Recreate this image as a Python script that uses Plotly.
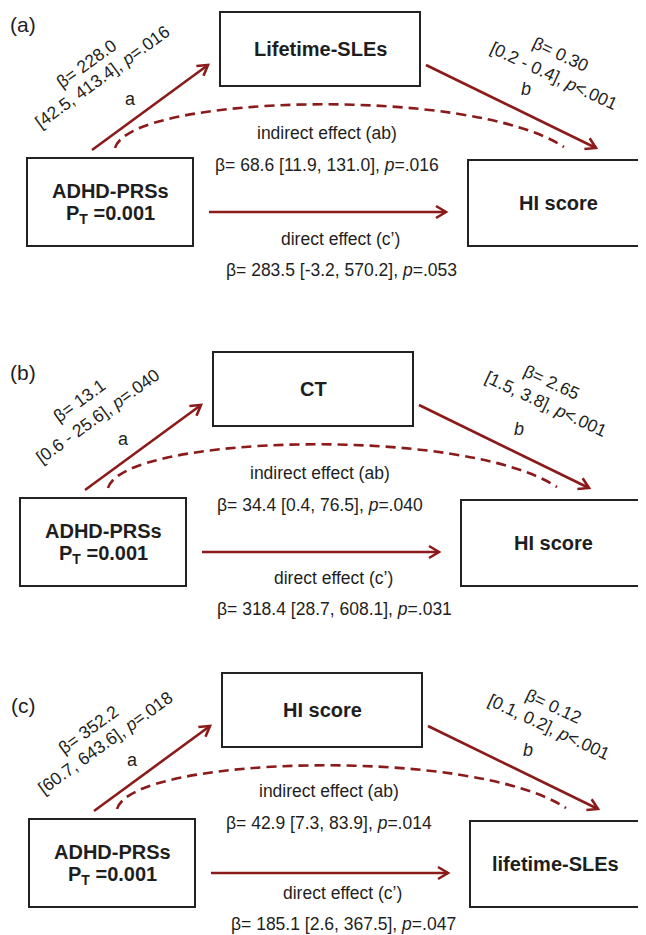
import math
import plotly.graph_objects as go

# ---------------- data (text content of the three mediation models) ----------------
panel_labels = ["(a)", "(b)", "(c)"]
exposure_name = ["ADHD-PRSs", "ADHD-PRSs", "ADHD-PRSs"]
exposure_pt = ["0.001", "0.001", "0.001"]
mediators = ["Lifetime-SLEs", "CT", "HI score"]
outcomes = ["HI score", "HI score", "lifetime-SLEs"]

a_beta = ["228.0", "13.1", "352.2"]
a_ci = ["[42.5, 413.4]", "[0.6 - 25.6]", "[60.7, 643.6]"]
a_p = ["=.016", "=.040", "=.018"]

b_beta = ["0.30", "2.65", "0.12"]
b_ci = ["[0.2 - 0.4]", "[1.5, 3.8]", "[0.1, 0.2]"]
b_p = ["&lt;.001", "&lt;.001", "&lt;.001"]

ind_beta = ["68.6", "34.4", "42.9"]
ind_ci = ["[11.9, 131.0]", "[0.4, 76.5]", "[7.3, 83.9]"]
ind_p = ["=.016", "=.040", "=.014"]

dir_beta = ["283.5", "318.4", "185.1"]
dir_ci = ["[-3.2, 570.2]", "[28.7, 608.1]", "[2.6, 367.5]"]
dir_p = ["=.053", "=.031", "=.047"]

# ---------------- layout geometry (page pixel space) ----------------
PAGE_W, PAGE_H = 646, 935
BODY_MARGIN = 8           # default page margin around the plot div
W, H = PAGE_W - BODY_MARGIN, PAGE_H - BODY_MARGIN
DX = [0, -7, 2]
DY = [0, 340, 661]
DY_IND = [0, 340, 658]
DY_DIR = [0, 339, 654]
LABEL_Y = [24, 372, 705]
RIGHT_X1 = [652, 650, 645]
A1_POS = [(86, 64), (79, 401), (88, 730)]
A2_POS = [(102, 77), (98, 416), (105, 743)]
B1_POS = [(560, 54), (551, 382), (553, 706)]
B2_POS = [(554, 76), (546, 404), (549, 727)]

RED = "#8b1a1a"
TXT = "#1e1e1e"
FONT = "Liberation Sans, Arial, sans-serif"

shapes = []
annotations = []


def box(x0, y0, x1, y1):
    shapes.append(dict(type="rect", xref="x", yref="y", x0=x0, y0=y0, x1=x1, y1=y1,
                       line=dict(color="#222222", width=2), fillcolor="rgba(0,0,0,0)"))


def arrow(x0, y0, x1, y1, width=2.6, back=10, half=6):
    shapes.append(dict(type="line", xref="x", yref="y", x0=x0, y0=y0, x1=x1, y1=y1,
                       line=dict(color=RED, width=width)))
    L = math.hypot(x1 - x0, y1 - y0)
    ux, uy = (x1 - x0) / L, (y1 - y0) / L
    nx, ny = -uy, ux
    bx, by = x1 - back * ux, y1 - back * uy
    p1 = (bx + half * nx, by + half * ny)
    p2 = (bx - half * nx, by - half * ny)
    shapes.append(dict(type="path", xref="x", yref="y",
                       path=f"M {p1[0]:.2f},{p1[1]:.2f} L {x1:.2f},{y1:.2f} L {p2[0]:.2f},{p2[1]:.2f}",
                       line=dict(color=RED, width=width), fillcolor="rgba(0,0,0,0)"))


def text(x, y, s, size=17.5, angle=0, bold=False, color=TXT):
    if bold:
        s = f"<b>{s}</b>"
    annotations.append(dict(x=x, y=y, xref="x", yref="y", text=s, showarrow=False,
                            xanchor="center", yanchor="middle", textangle=angle,
                            font=dict(family=FONT, size=size, color=color)))


for i in range(3):
    dx, dy = DX[i], DY[i]
    # panel label
    text(23, LABEL_Y[i], panel_labels[i], size=21)

    # boxes
    box(27 + dx, 158 + dy, 193 + dx, 246 + dy)
    box(220 + dx, 12 + dy, 420 + dx, 86 + dy)
    box(468 + dx, 160 + dy, RIGHT_X1[i], 246 + dy)

    # box labels
    text(110 + dx, 191 + dy, exposure_name[i], size=20, bold=True)
    text(110 + dx, 214 + dy, f"P<sub>T</sub> =" + exposure_pt[i], size=20, bold=True)
    text(320 + dx, 49 + dy, mediators[i], size=20, bold=True)
    text((468 + dx + min(RIGHT_X1[i], 652)) / 2 - 2, 203 + dy, outcomes[i], size=20, bold=True)

    # arrows
    arrow(92 + dx, 150 + dy, 208 + dx, 65 + dy)        # a path
    arrow(426 + dx, 65 + dy, 596 + dx, 148 + dy)       # b path
    arrow(209 + dx, 212 + dy, 446 + dx, 212 + dy)      # direct path

    # dashed indirect curve
    shapes.append(dict(type="path", xref="x", yref="y",
                       path=(f"M {115+dx},{148+dy} C {130+dx},{95+dy} "
                             f"{470+dx},{85+dy} {564+dx},{147+dy}"),
                       line=dict(color=RED, width=2.6, dash="10px,6px"),
                       fillcolor="rgba(0,0,0,0)"))

    # a path labels
    text(A1_POS[i][0], A1_POS[i][1], f"β= {a_beta[i]}", size=17.5, angle=-36)
    text(A2_POS[i][0], A2_POS[i][1], f"{a_ci[i]}, <i>p</i>{a_p[i]}", size=17.5, angle=-36)
    text(130 + dx, 99 + dy, "a", size=18)

    # b path labels
    text(B1_POS[i][0], B1_POS[i][1], f"β= {b_beta[i]}", size=17.5, angle=25)
    text(B2_POS[i][0], B2_POS[i][1], f"{b_ci[i]}, <i>p</i>{b_p[i]}", size=17.5, angle=25)
    text(526 + dx, 89 + dy, "<i>b</i>", size=18)

    # indirect / direct effect texts
    di, dd = DY_IND[i], DY_DIR[i]
    text(327 + dx, 133 + di, "indirect effect (ab)", size=17.5)
    text(327 + dx, 165 + di, f"β= {ind_beta[i]} {ind_ci[i]}, <i>p</i>{ind_p[i]}", size=17.5)
    text(340 + dx, 239 + dd, "direct effect (c’)", size=17.5)
    text(341 + dx, 270 + dd, f"β= {dir_beta[i]} {dir_ci[i]}, <i>p</i>{dir_p[i]}", size=17.5)

fig = go.Figure()
fig.update_layout(
    width=W, height=H,
    margin=dict(l=0, r=0, t=0, b=0),
    paper_bgcolor="white", plot_bgcolor="white",
    xaxis=dict(range=[BODY_MARGIN, PAGE_W], visible=False, fixedrange=True),
    yaxis=dict(range=[PAGE_H, BODY_MARGIN], visible=False, fixedrange=True),
    shapes=shapes, annotations=annotations, showlegend=False,
)
fig.write_html("out.html")
